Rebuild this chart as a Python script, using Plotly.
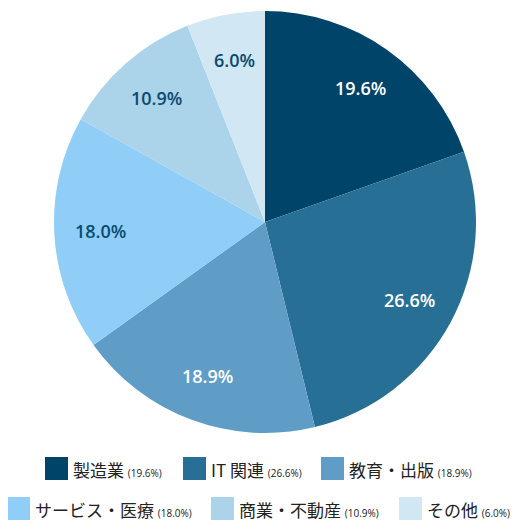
import math
import plotly.graph_objects as go

categories = ['製造業', 'IT 関連', '教育・出版', 'サービス・医療', '商業・不動産', 'その他']
shares = [19.6, 26.6, 18.9, 18.0, 10.9, 6.0]
slice_colors = ['#01446a', '#286f96', '#5f9dc7', '#90cef8', '#abd3ea', '#d1e7f3']
label_colors = ['#ffffff', '#ffffff', '#ffffff', '#0b4a6f', '#0b4a6f', '#0b4a6f']

# page is offset by the 8px body margin, so the figure is 514 wide and
# everything below is given in page pixels then shifted
OFF = 8
W = H = 514

# pie geometry in page px
cx, cy, R = 265, 222, 211
label_r = 0.78

# legend layout: (row, square left x px)
legend_rows = [0, 0, 0, 1, 1, 1]
legend_x = [45, 183, 321, 7, 211, 399]
row_top = [457, 497]
sq = 23


def px(x):
    return (x - OFF) / W


def py(y):
    return 1 - (y - OFF) / H


fig = go.Figure()
fig.add_trace(go.Pie(
    labels=categories,
    values=shares,
    sort=False,
    direction='clockwise',
    rotation=0,
    marker=dict(colors=slice_colors, line=dict(width=0)),
    textinfo='none',
    domain=dict(x=[px(cx - R), px(cx + R)], y=[py(cy + R), py(cy - R)]),
    showlegend=False,
    hoverinfo='label+percent',
))

annotations = []
total = sum(shares)
cum = 0
for val, tc in zip(shares, label_colors):
    mid = (cum + val / 2) / total * 2 * math.pi
    cum += val
    annotations.append(dict(
        xref='paper', yref='paper',
        x=px(cx + label_r * R * math.sin(mid)), y=py(cy - label_r * R * math.cos(mid)),
        xanchor='center', yanchor='middle', showarrow=False,
        text='{0:.1f}%'.format(val),
        font=dict(family='Open Sans', size=18, color=tc, weight=600),
    ))

shapes = []
for cat, val, col, row, x0 in zip(categories, shares, slice_colors, legend_rows, legend_x):
    y0 = row_top[row]
    shapes.append(dict(
        type='rect', xref='paper', yref='paper',
        x0=px(x0), x1=px(x0 + sq), y0=py(y0 + sq), y1=py(y0),
        fillcolor=col, line=dict(width=0),
    ))
    annotations.append(dict(
        xref='paper', yref='paper', x=px(x0 + sq + 3), y=py(y0 + sq / 2 + 1),
        xanchor='left', yanchor='middle', showarrow=False,
        text="{0} <span style='font-size:10px;font-family:Open Sans'>({1:.1f}%)</span>".format(cat, val),
        font=dict(family='Noto Sans CJK JP', size=17, color='#222222'),
    ))

fig.update_layout(
    width=W, height=H,
    margin=dict(l=0, r=0, t=0, b=0),
    paper_bgcolor='white',
    plot_bgcolor='white',
    shapes=shapes,
    annotations=annotations,
)

fig.write_html('out.html')
